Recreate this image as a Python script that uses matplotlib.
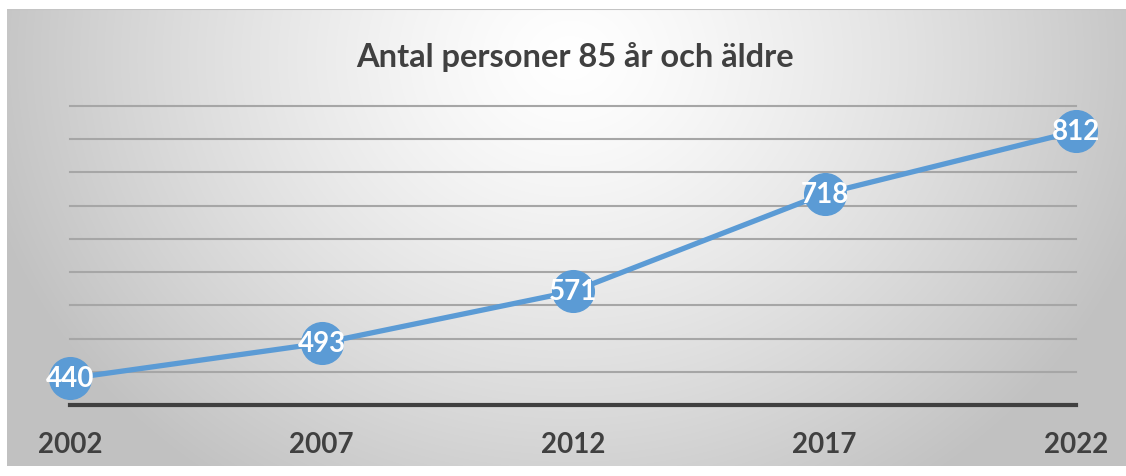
import numpy as np
import matplotlib
matplotlib.use('Agg')
import matplotlib.pyplot as plt

# Data
years = ['2002', '2007', '2012', '2017', '2022']
values = [440, 493, 571, 718, 812]
y_min, y_max = 400, 850
grid_vals = [450, 500, 550, 600, 650, 700, 750, 800, 850]

title = 'Antal personer 85 år och äldre'
blue = '#5B9BD5'
dark = '#404040'

plt.rcParams['font.family'] = ['Lato', 'DejaVu Sans']

W, H = 1126, 477
fig = plt.figure(figsize=(W / 100, H / 100), dpi=100)
fig.patch.set_facecolor('white')

# ----- radial gradient background -----
bx0, by0, bx1, by1 = 7, 10, 1126, 468
bg = fig.add_axes([bx0 / W, (H - by1) / H, (bx1 - bx0) / W, (by1 - by0) / H])
xx, yy = np.meshgrid(np.arange(bx0, bx1), np.arange(by0, by1))
d = np.sqrt(((xx - 570) / 600.0) ** 2 + ((yy - 60) / 520.0) ** 2)
shade = 1.0 - 0.24 * np.clip(d, 0, 1) ** 1.3
bg.imshow(np.dstack([shade] * 3), aspect='auto', interpolation='bilinear')
bg.set_axis_off()
bg.plot([0, bx1 - bx0], [0, 0], color='#c4c4c4', lw=1.5)
bg.set_xlim(0, bx1 - bx0)
bg.set_ylim(by1 - by0, 0)

# ----- main chart -----
x0_px, x1_px = 70, 1076
ybot_px, ytop_px = 406, 107
ax = fig.add_axes([x0_px / W, (H - ybot_px) / H, (x1_px - x0_px) / W,
                   (ybot_px - ytop_px) / H])
ax.set_facecolor('none')
xs = np.arange(len(years))
ax.set_xlim(xs[0], xs[-1])
ax.set_ylim(y_min, y_max)

for g in grid_vals:
    ax.axhline(g, color='#a6a6a6', lw=1.5, zorder=1, clip_on=False)
ax.axhline(y_min, color=dark, lw=3, zorder=2, clip_on=False)

ax.plot(xs, values, color=blue, lw=3.8, zorder=3, clip_on=False,
        solid_capstyle='round')
ax.plot(xs, values, 'o', ms=30, color=blue, mec=blue, zorder=4, clip_on=False)
for x, v in zip(xs, values):
    ax.text(x, v, str(v), color='white', fontsize=20, fontweight='bold',
            ha='center', va='center', zorder=5)

for s in ax.spines.values():
    s.set_visible(False)
ax.set_yticks([])
ax.set_xticks(xs)
ax.set_xticklabels(years, fontsize=20, fontweight='bold', color=dark)
ax.tick_params(axis='x', length=0, pad=19)

fig.text(575 / W, (H - 57) / H, title, fontsize=23.5, fontweight='bold',
         color=dark, ha='center', va='center')

fig.savefig('out.png', dpi=100)
